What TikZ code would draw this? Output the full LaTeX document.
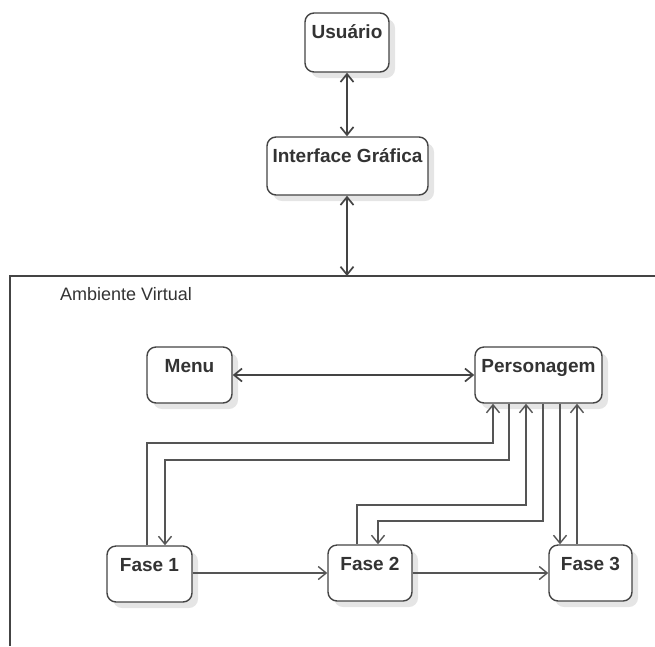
\documentclass[tikz,border=0pt]{standalone}
\usepackage{fontspec}
\setmainfont{Liberation Sans}
\usetikzlibrary{arrows.meta,shadows}
\definecolor{edge}{HTML}{444444}
\definecolor{conn}{HTML}{555555}
\definecolor{txt}{HTML}{333333}
\begin{document}
\begin{tikzpicture}[x=1pt,y=-1pt,
  box/.style={draw=edge, line width=1.4pt, rounded corners=9pt, fill=white,
    drop shadow={shadow xshift=6pt, shadow yshift=-6pt, fill=black, opacity=0.10},
    font=\bfseries\fontsize{19}{21}\selectfont, text=txt,
    inner xsep=0pt, inner ysep=0pt, text height=25pt},
  arr/.style={draw=conn, line width=1.4pt, -{Straight Barb[length=8pt,width=13pt]}},
  arr2/.style={draw=edge, line width=1.7pt, {Straight Barb[length=8pt,width=13pt]}-{Straight Barb[length=8pt,width=13pt]}},
  frame/.style={draw=edge, line width=1.4pt}
]
\useasboundingbox (0,0) rectangle (655,646);

% top boxes
\node[box, minimum width=84pt, minimum height=59pt, text depth=34pt] (usu) at (347,42.5) {Usuário};
\node[box, minimum width=161pt, minimum height=58pt, text depth=33pt] (gui) at (347.5,166) {Interface Gráfica};

% frame
\coordinate (ftr) at (655,276);
\coordinate (ftl) at (10,276);
\coordinate (fbl) at (10,646);
\coordinate (ftop) at (347,276);
\draw[frame] (ftr) -- (ftl) -- (fbl);
\node[anchor=base west, inner sep=0pt, font=\fontsize{18}{20}\selectfont, text=txt] (amb) at (60,300) {Ambiente Virtual};

\draw[arr2] (usu.south -| 347,0) -- (gui.north -| 347,0);
\draw[arr2] (gui.south -| 347,0) -- (ftop);

% inner boxes
\node[box, minimum width=85pt, minimum height=56pt, text depth=31pt] (menu) at (189.5,375) {Menu};
\node[box, minimum width=127pt, minimum height=56pt, text depth=31pt] (pers) at (538.5,375) {Personagem};
\node[box, minimum width=85pt, minimum height=56pt, text depth=31pt] (f1) at (149.5,574) {Fase 1};
\node[box, minimum width=84pt, minimum height=56pt, text depth=31pt] (f2) at (370,573) {Fase 2};
\node[box, minimum width=83pt, minimum height=56pt, text depth=31pt] (f3) at (590.5,573) {Fase 3};

\draw[arr2] (menu.east |- 0,375) -- (pers.west |- 0,375);

\draw[arr] (f1.east |- 0,573) -- (f2.west |- 0,573);
\draw[arr] (f2.east |- 0,573) -- (f3.west |- 0,573);

\draw[arr] ([xshift=-2.5pt]f1.north) |- (493,443) -- ([xshift=-45.5pt]pers.south);
\draw[arr] ([xshift=-29.5pt]pers.south) |- (165,460) -- ([xshift=15.5pt]f1.north);
\draw[arr] ([xshift=-13pt]f2.north) |- (526,505) -- ([xshift=-12.5pt]pers.south);
\draw[arr] ([xshift=4.5pt]pers.south) |- (378,521) -- ([xshift=8pt]f2.north);
\draw[arr] ([xshift=21.5pt]pers.south) -- ([xshift=-30.5pt]f3.north);
\draw[arr] ([xshift=-13.5pt]f3.north) -- ([xshift=38.5pt]pers.south);
\end{tikzpicture}
\end{document}
